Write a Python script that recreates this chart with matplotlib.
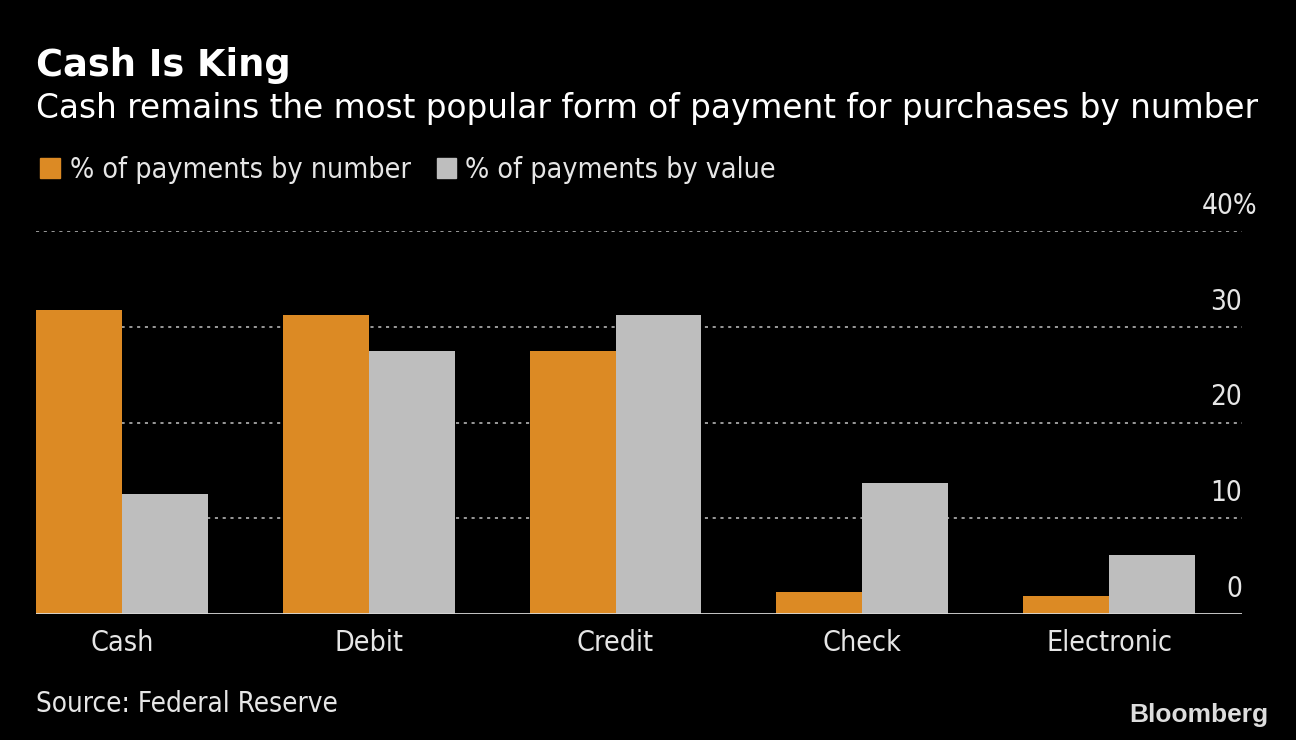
import matplotlib
matplotlib.use("Agg")
import matplotlib.pyplot as plt
import matplotlib.transforms as mtransforms
from matplotlib.patches import Rectangle
import numpy as np

categories = ["Cash", "Debit", "Credit", "Check", "Electronic"]
by_number = [31.7, 31.2, 27.5, 2.3, 1.9]
by_value = [12.5, 27.5, 31.2, 13.7, 6.2]
series_names = ["% of payments by number", "% of payments by value"]
yticks = [0, 10, 20, 30, 40]
ytick_labels = ["0", "10", "20", "30", "40%"]

ORANGE = "#DC8A24"
GRAY = "#BEBEBE"
TEXT = "#E6E6E6"
COND = dict(family="DejaVu Sans", stretch="condensed")

W, H = 1296, 740
fig = plt.figure(figsize=(W / 100, H / 100), dpi=100, facecolor="black")

def fx(px):
    return px / W

def fy(py):
    return 1 - py / H

ax = fig.add_axes([fx(36), fy(614), fx(1242) - fx(36), fy(231) - fy(614)])
ax.set_facecolor("black")

x = np.arange(len(categories))
bw = 0.348
ax.bar(x - bw / 2, by_number, width=bw, color=ORANGE, linewidth=0, zorder=3)
ax.bar(x + bw / 2, by_value, width=bw, color=GRAY, linewidth=0, zorder=3)

ax.set_xlim(-0.348, 4.538)
ax.set_ylim(0, 40)

for s in ax.spines.values():
    s.set_visible(False)
ax.axhline(0, color="#D8D8D8", linewidth=2, zorder=4)
for t in yticks[1:]:
    ax.axhline(t, color="#9A9A9A", linewidth=1.4, linestyle=(0, (1.6, 2.4)), zorder=1)

ax.set_yticks([])
ax.set_xticks(x)
ax.set_xticklabels(categories, fontsize=20.5, color=TEXT, **COND)
ax.tick_params(axis="x", length=0, pad=11)

trans = mtransforms.blended_transform_factory(ax.transAxes, ax.transData)
offset = mtransforms.offset_copy(trans, fig=fig, x=0, y=17, units="dots")
for t, lab in zip(yticks, ytick_labels):
    if lab.endswith("%"):
        ax.text(1.0 + 15 / (1242 - 36), t, lab, transform=offset, ha="right", va="baseline",
                fontsize=20, color=TEXT, clip_on=False, **COND)
    else:
        ax.text(1.0, t, lab, transform=offset, ha="right", va="baseline",
                fontsize=20, color=TEXT, clip_on=False, **COND)

fig.text(fx(36), fy(76), "Cash Is King", fontsize=26.5, fontweight="bold",
         color="white", family="DejaVu Sans", va="baseline")
fig.text(fx(36), fy(118), "Cash remains the most popular form of payment for purchases by number",
         fontsize=23.6, color="white", family="DejaVu Sans", va="baseline")

# legend
fig.patches.append(Rectangle((fx(40), fy(178)), fx(20), fy(158) - fy(178),
                             transform=fig.transFigure, color=ORANGE))
fig.text(fx(70), fy(178), series_names[0], fontsize=20.5, color=TEXT, va="baseline", **COND)
fig.patches.append(Rectangle((fx(437), fy(178)), fx(19), fy(158) - fy(178),
                             transform=fig.transFigure, color=GRAY))
fig.text(fx(465), fy(178), series_names[1], fontsize=20.5, color=TEXT, va="baseline", **COND)

fig.text(fx(36), fy(712), "Source: Federal Reserve", fontsize=20, color=TEXT, va="baseline", **COND)
fig.text(fx(1268), fy(722), "Bloomberg", fontsize=19, fontweight="bold", color="#DDDDDD",
         family="Liberation Sans", ha="right", va="baseline")

fig.savefig("out.png", dpi=100, facecolor="black")
